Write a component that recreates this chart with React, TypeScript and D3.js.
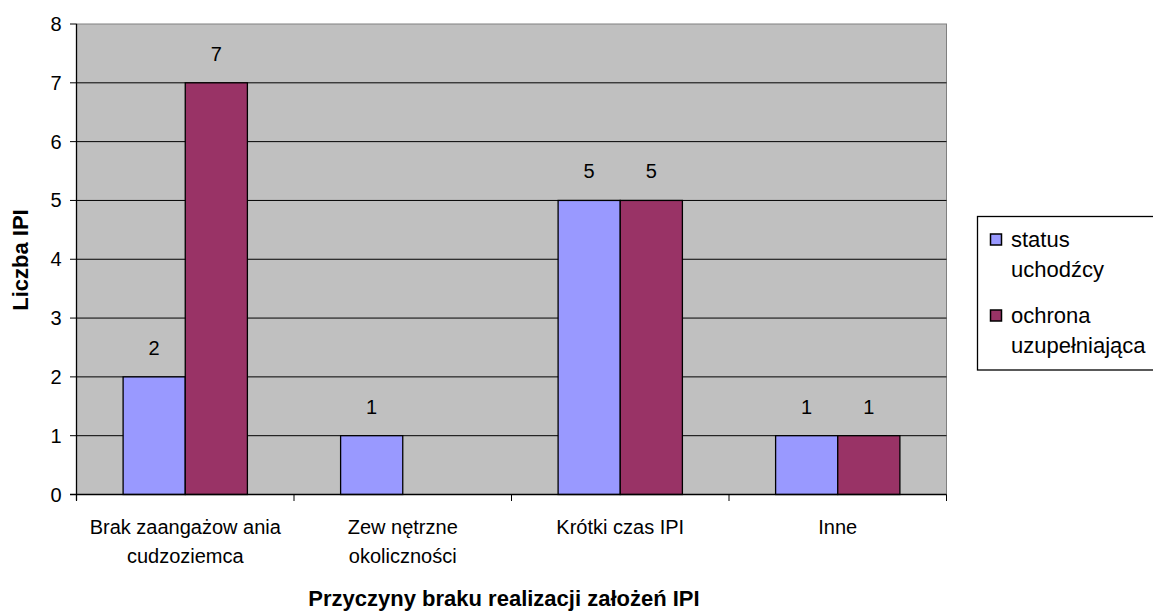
import React from "react";
import * as d3 from "d3";

const categories: string[][] = [
  ["Brak zaangażow ania", "cudzoziemca"],
  ["Zew nętrzne", "okoliczności"],
  ["Krótki czas IPI"],
  ["Inne"],
];
const seriesNames: string[][] = [["status", "uchodźcy"], ["ochrona", "uzupełniająca"]];
const statusValues: (number | null)[] = [2, 1, 5, 1];
const ochronaValues: (number | null)[] = [7, null, 5, 1];
const colors = ["#9999FF", "#993366"];
const yTicks = [0, 1, 2, 3, 4, 5, 6, 7, 8];

export default function App() {
  const W = 1153, H = 613;
  const left = 76.5, right = 946.5, top = 24, bottom = 494.5;
  const x = d3.scaleBand<number>().domain(d3.range(categories.length)).range([left, right]).paddingInner(0).paddingOuter(0);
  const y = d3.scaleLinear().domain([0, 8]).range([bottom, top]);
  const bw = x.bandwidth() / 3.5;
  const series = [statusValues, ochronaValues];
  const font = "'Liberation Sans', Arial, sans-serif";
  return (
    <svg width={W} height={H} style={{ position: "absolute", left: 0, top: 0 }} fontFamily={font}>
      <rect x={left} y={top} width={right - left} height={bottom - top} fill="#C0C0C0" stroke="#808080" strokeWidth={1} />
      {yTicks.map((t) => (
        <g key={t}>
          {t > 0 && t < 8 && <line x1={left} x2={right} y1={y(t)} y2={y(t)} stroke="#000" strokeWidth={1} />}
          <line x1={left - 6.5} x2={left} y1={y(t)} y2={y(t)} stroke="#000" />
          <text x={left - 15} y={y(t)} dy="0.35em" textAnchor="end" fontSize={20}>{t}</text>
        </g>
      ))}
      {series.map((vals, si) =>
        vals.map((v, ci) => {
          if (v === null) return null;
          const bx = (x(ci) as number) + x.bandwidth() / 2 - bw + si * bw;
          return (
            <g key={si + "-" + ci}>
              <rect x={bx} y={y(v)} width={bw} height={bottom - y(v)} fill={colors[si]} stroke="#000" strokeWidth={1.3} />
              <text x={bx + bw / 2} y={y(v) - 29} dy="0.35em" textAnchor="middle" fontSize={20}>{v}</text>
            </g>
          );
        })
      )}
      <line x1={left} x2={left} y1={top} y2={bottom + 6} stroke="#000" strokeWidth={1.3} />
      <line x1={left - 6.5} x2={right} y1={bottom} y2={bottom} stroke="#000" strokeWidth={1.3} />
      {d3.range(categories.length + 1).map((i) => {
        const xx = i < categories.length ? (x(i) as number) : right;
        return <line key={i} x1={xx} x2={xx} y1={bottom} y2={bottom + 6.5} stroke="#000" />;
      })}
      {categories.map((lines, ci) => (
        <text key={ci} x={(x(ci) as number) + x.bandwidth() / 2} y={527} textAnchor="middle" fontSize={20}>
          {lines.map((l, li) => (
            <tspan key={li} x={(x(ci) as number) + x.bandwidth() / 2} dy={li === 0 ? "0.35em" : 29}>{l}</tspan>
          ))}
        </text>
      ))}
      <text x={504} y={598} dy="0.35em" textAnchor="middle" fontSize={22} fontWeight="bold">Przyczyny braku realizacji założeń IPI</text>
      <text transform={`translate(20,260) rotate(-90)`} dy="0.35em" textAnchor="middle" fontSize={22} fontWeight="bold">Liczba IPI</text>
      <rect x={977.5} y={216.5} width={200} height={153.5} fill="#fff" stroke="#000" strokeWidth={1.3} />
      {seriesNames.map((lines, si) => (
        <g key={si}>
          <rect x={990.5} y={234 + si * 76} width={11} height={11} fill={colors[si]} stroke="#000" strokeWidth={1.5} />
          {lines.map((l, li) => (
            <text key={li} x={1011} y={239.5 + si * 76 + li * 29.5} dy="0.35em" fontSize={22}>{l}</text>
          ))}
        </g>
      ))}
    </svg>
  );
}
